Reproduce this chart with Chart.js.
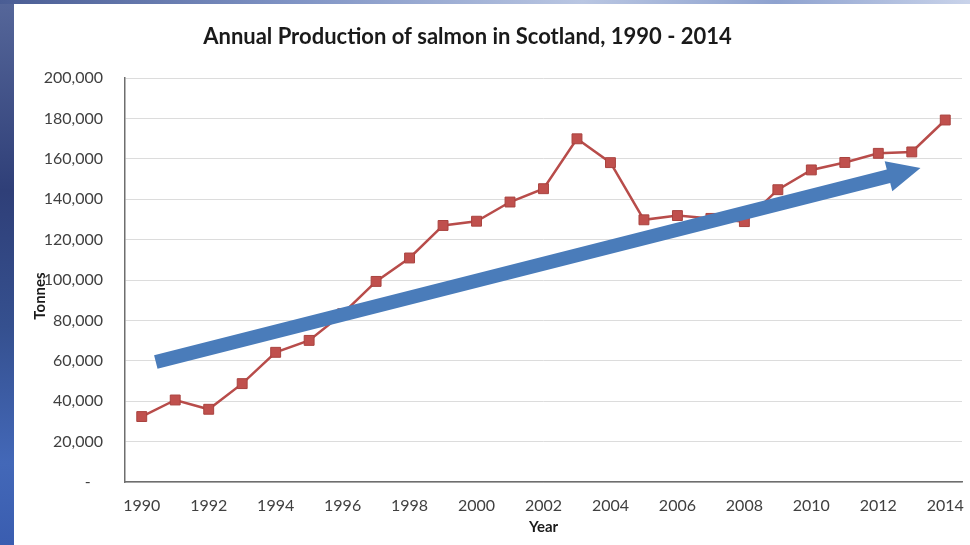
<!DOCTYPE html>
<html>
<head>
<meta charset="utf-8">
<title>Annual Production of salmon in Scotland</title>
<script src="https://cdn.jsdelivr.net/npm/chart.js@4.4.1/dist/chart.umd.min.js"></script>
<style>
  html, body { margin: 0; padding: 0; }
  body {
    width: 970px; height: 545px; overflow: hidden; position: relative;
    background: linear-gradient(180deg, #56679a 0%, #2f3f78 35%, #35508f 60%, #4368b8 85%, #3a5db0 100%);
  }
  #topband {
    position: absolute; left: 0; top: 0; width: 970px; height: 4px;
    background: linear-gradient(90deg, #4a5d94 0%, #7f93c4 30%, #b9c6e2 60%, #8ea2cf 80%, #c9d3ea 100%);
  }
  #panel { position: absolute; left: 14px; top: 4px; width: 956px; height: 541px; background: #fff; }
</style>
</head>
<body>
<div id="topband"></div>
<div id="panel"><canvas id="salmonChart" width="956" height="541"></canvas></div>

<script>
// Scottish farmed salmon production, tonnes per year
const years = ['1990', '1991', '1992', '1993', '1994', '1995', '1996', '1997', '1998', '1999',
               '2000', '2001', '2002', '2003', '2004', '2005', '2006', '2007', '2008', '2009',
               '2010', '2011', '2012', '2013', '2014'];
const tonnes = [32400, 40600, 36000, 48700, 64200, 70100, 83300, 99300, 110900, 127000,
                129100, 138600, 145200, 169900, 158100, 129800, 131900, 130500, 128900, 144700,
                154500, 158200, 162700, 163400, 179200];
const yMax = 200000;
const yStep = 20000;
const chartTitle = 'Annual Production of salmon in Scotland, 1990 - 2014';

// trend arrow, given as (year index, tonnes) for its tail and tip
const arrowTail = [0.42, 59400];
const arrowTip = [23.26, 155400];

const FONT = 'Lato, "Open Sans", sans-serif';
Chart.defaults.font.family = FONT;

const overlay = {
    id: 'overlay',
    afterDatasetsDraw(chart) {
        const ctx = chart.ctx;
        const x = chart.scales.x, y = chart.scales.y;
        const x0 = x.getPixelForValue(arrowTail[0]), y0 = y.getPixelForValue(arrowTail[1]);
        const x1 = x.getPixelForValue(arrowTip[0]), y1 = y.getPixelForValue(arrowTip[1]);
        const len = Math.hypot(x1 - x0, y1 - y0);
        const shaft = 7, headLen = 33, headHalf = 15.5;

        ctx.save();
        ctx.translate(x0, y0);
        ctx.rotate(Math.atan2(y1 - y0, x1 - x0));
        ctx.beginPath();
        ctx.moveTo(0, -shaft);
        ctx.lineTo(len - headLen, -shaft);
        ctx.lineTo(len - headLen, -headHalf);
        ctx.lineTo(len, 0);
        ctx.lineTo(len - headLen, headHalf);
        ctx.lineTo(len - headLen, shaft);
        ctx.lineTo(0, shaft);
        ctx.closePath();
        ctx.fillStyle = '#4a7cba';
        ctx.fill();
        ctx.restore();
    },
    afterDraw(chart) {
        const ctx = chart.ctx;
        const area = chart.chartArea;

        // title sits a little left of the plot centre
        ctx.save();
        ctx.font = 'bold 22px ' + FONT;
        ctx.fillStyle = '#1a1a1a';
        ctx.textAlign = 'center';
        ctx.textBaseline = 'middle';
        ctx.fillText(chartTitle, (area.left + area.right) / 2 - 76, 33);
        ctx.restore();

        // y axis title drawn over the tick labels
        ctx.save();
        ctx.translate(area.left - 85, (area.top + area.bottom) / 2 + 16);
        ctx.rotate(-Math.PI / 2);
        ctx.font = 'bold 15px ' + FONT;
        ctx.fillStyle = '#1a1a1a';
        ctx.textAlign = 'center';
        ctx.textBaseline = 'middle';
        ctx.fillText('Tonnes', 0, 0);
        ctx.restore();
    }
};

new Chart(document.getElementById('salmonChart'), {
    type: 'line',
    data: {
        labels: years,
        datasets: [{
            label: 'Tonnes',
            data: tonnes,
            borderColor: '#b84c4a',
            borderWidth: 2.5,
            pointStyle: 'rect',
            pointRadius: 7,
            pointBackgroundColor: '#c0504d',
            pointBorderColor: '#a9433f',
            pointBorderWidth: 1,
            tension: 0
        }]
    },
    options: {
        responsive: false,
        animation: false,
        layout: { padding: { left: 0, right: 5, top: 74, bottom: 0 } },
        plugins: {
            legend: { display: false },
            tooltip: { enabled: false },
            title: { display: false }
        },
        scales: {
            x: {
                offset: true,
                grid: { display: false, drawTicks: false },
                border: { display: true, color: '#6e6e6e', width: 1.5 },
                ticks: {
                    autoSkip: false,
                    maxRotation: 0,
                    padding: 14,
                    color: '#404040',
                    font: { size: 16 },
                    callback: (v, i) => (i % 2 === 0 ? years[i] : '')
                },
                title: {
                    display: true,
                    text: 'Year',
                    color: '#1a1a1a',
                    font: { size: 15, weight: 'bold' },
                    padding: { top: 0, bottom: 9 }
                },
                afterFit: scale => {
                    scale.height = 63;
                    scale.paddingLeft = 0;
                    scale.paddingRight = 0;
                }
            },
            y: {
                min: 0,
                max: yMax,
                grid: { color: '#dcdcdc', lineWidth: 1, drawTicks: false },
                border: { display: true, color: '#6e6e6e', width: 1.5 },
                ticks: {
                    stepSize: yStep,
                    padding: 22,
                    color: '#404040',
                    font: { size: 16 },
                    callback: v => (v === 0 ? '-\u00a0\u00a0\u00a0' : v.toLocaleString('en-US'))
                },
                afterFit: scale => { scale.width = 111; }
            }
        }
    },
    plugins: [overlay]
});
</script>
</body>
</html>
